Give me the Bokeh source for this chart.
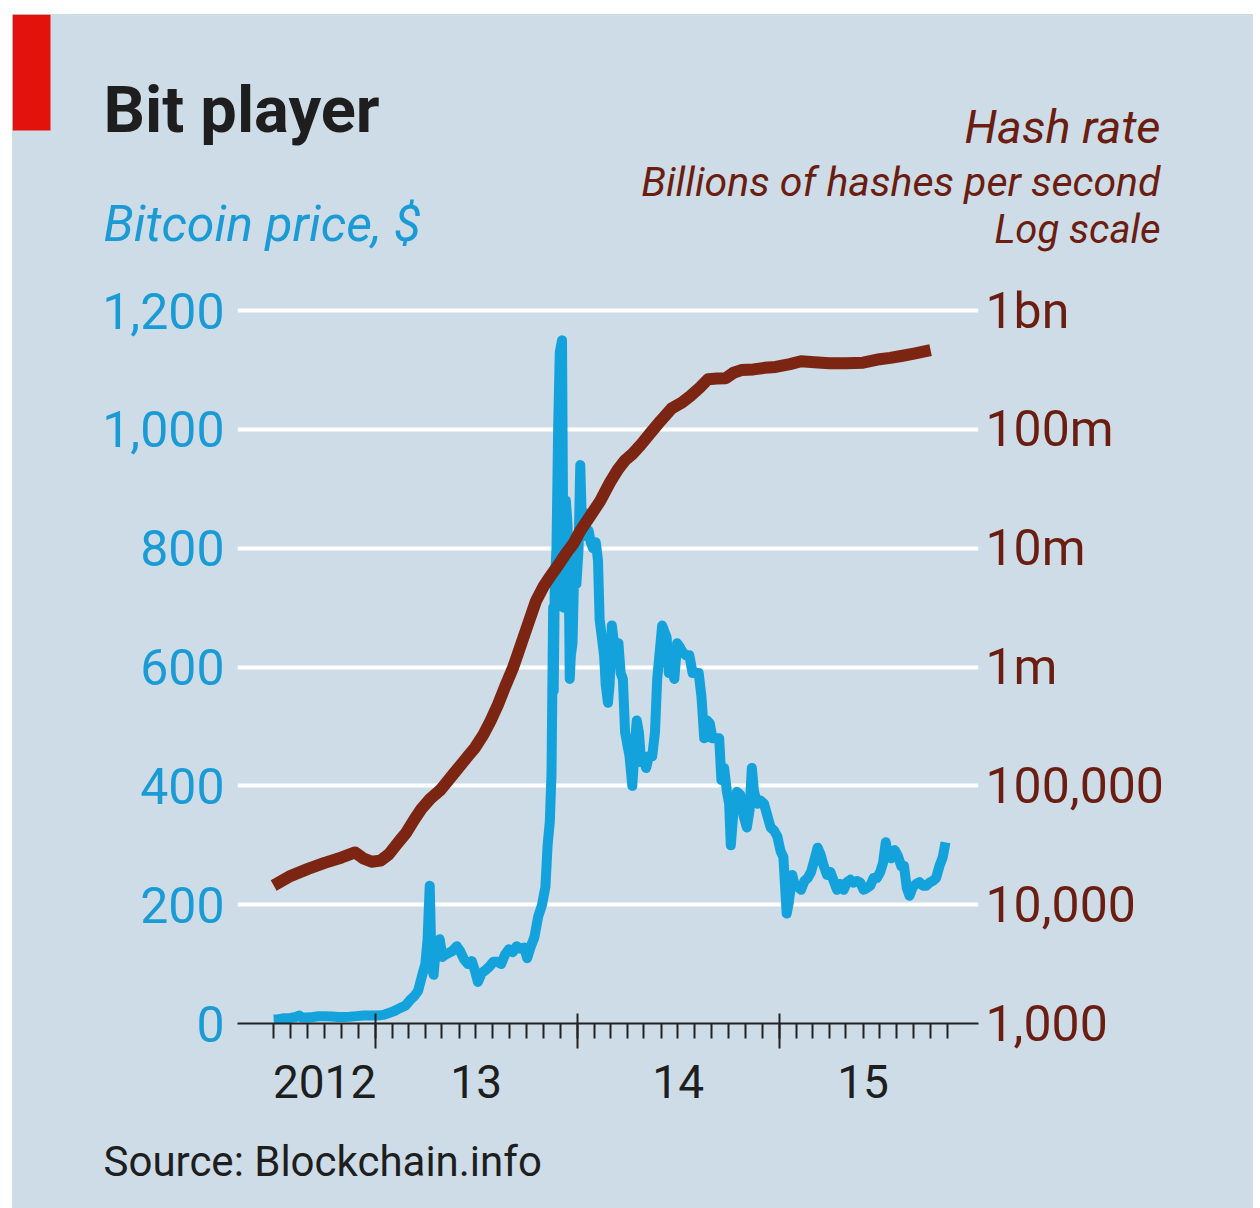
import pandas as pd
from bokeh.plotting import figure
from bokeh.layouts import row, column
from bokeh.models import (Range1d, LogScale, LogAxis, DatetimeAxis, FixedTicker,
                          ColumnDataSource, CustomJSTickFormatter, Spacer)
from bokeh.core.properties import value
from bokeh.embed import file_html
from bokeh.resources import INLINE

# ---------------- data ----------------
price_dates = [
    "2012-07-01", "2012-07-10", "2012-07-20", "2012-08-01", "2012-08-10", "2012-08-16",
    "2012-08-20", "2012-08-31", "2012-09-10", "2012-09-20", "2012-10-01", "2012-10-15",
    "2012-10-25", "2012-11-05", "2012-11-15", "2012-11-28", "2012-12-10", "2012-12-24",
    "2013-01-05", "2013-01-15", "2013-01-25", "2013-02-04", "2013-02-14", "2013-02-24",
    "2013-03-05", "2013-03-12", "2013-03-19", "2013-03-26", "2013-04-01", "2013-04-05",
    "2013-04-09", "2013-04-11", "2013-04-13", "2013-04-16", "2013-04-19", "2013-04-23",
    "2013-04-27", "2013-05-02", "2013-05-06", "2013-05-12", "2013-05-20", "2013-05-28",
    "2013-06-03", "2013-06-10", "2013-06-17", "2013-06-24", "2013-06-30", "2013-07-05",
    "2013-07-12", "2013-07-19", "2013-07-26", "2013-08-02", "2013-08-09", "2013-08-16",
    "2013-08-23", "2013-08-30", "2013-09-06", "2013-09-13", "2013-09-20", "2013-09-27",
    "2013-10-02", "2013-10-08", "2013-10-15", "2013-10-22", "2013-10-29", "2013-11-04",
    "2013-11-08", "2013-11-12", "2013-11-15", "2013-11-18", "2013-11-19", "2013-11-21",
    "2013-11-24", "2013-11-27", "2013-11-30", "2013-12-04", "2013-12-07", "2013-12-09",
    "2013-12-11", "2013-12-14", "2013-12-17", "2013-12-18", "2013-12-20", "2013-12-23",
    "2013-12-26", "2013-12-30", "2014-01-03", "2014-01-06", "2014-01-09", "2014-01-13",
    "2014-01-17", "2014-01-21", "2014-01-25", "2014-01-29", "2014-02-03", "2014-02-07",
    "2014-02-10", "2014-02-14", "2014-02-18", "2014-02-21", "2014-02-25", "2014-02-28",
    "2014-03-04", "2014-03-08", "2014-03-12", "2014-03-16", "2014-03-20", "2014-03-24",
    "2014-03-28", "2014-04-01", "2014-04-05", "2014-04-10", "2014-04-14", "2014-04-18",
    "2014-04-22", "2014-04-26", "2014-04-30", "2014-05-05", "2014-05-10", "2014-05-16",
    "2014-05-21", "2014-05-25", "2014-05-30", "2014-06-03", "2014-06-07", "2014-06-11",
    "2014-06-15", "2014-06-19", "2014-06-25", "2014-06-30", "2014-07-04", "2014-07-10",
    "2014-07-16", "2014-07-22", "2014-07-28", "2014-08-02", "2014-08-08", "2014-08-13",
    "2014-08-18", "2014-08-23", "2014-08-28", "2014-09-02", "2014-09-08", "2014-09-14",
    "2014-09-18", "2014-09-23", "2014-09-28", "2014-10-02", "2014-10-05", "2014-10-10",
    "2014-10-16", "2014-10-22", "2014-10-28", "2014-11-03", "2014-11-08", "2014-11-12",
    "2014-11-16", "2014-11-22", "2014-11-28", "2014-12-04", "2014-12-10", "2014-12-16",
    "2014-12-22", "2014-12-28", "2015-01-03", "2015-01-08", "2015-01-14", "2015-01-18",
    "2015-01-24", "2015-01-28", "2015-02-03", "2015-02-09", "2015-02-15", "2015-02-21",
    "2015-02-27", "2015-03-05", "2015-03-11", "2015-03-16", "2015-03-22", "2015-03-28",
    "2015-04-03", "2015-04-09", "2015-04-15", "2015-04-21", "2015-04-27", "2015-05-03",
    "2015-05-09", "2015-05-15", "2015-05-21", "2015-05-27", "2015-06-02", "2015-06-08",
    "2015-06-14", "2015-06-20", "2015-06-26", "2015-07-02", "2015-07-07", "2015-07-12",
    "2015-07-17", "2015-07-22", "2015-07-28", "2015-08-03", "2015-08-09", "2015-08-14",
    "2015-08-19", "2015-08-24", "2015-08-30", "2015-09-05", "2015-09-11", "2015-09-17",
    "2015-09-23", "2015-09-29", "2015-10-05", "2015-10-11", "2015-10-17", "2015-10-23",
    "2015-10-28",
]
price_values = [
    6.7, 7.2, 8.8, 9.4, 11.0, 13.5,
    10.5, 10.2, 11.0, 12.3, 12.4, 11.8,
    10.9, 10.8, 11.2, 12.4, 13.3, 13.4,
    13.5, 14.5, 17.5, 21, 26, 30,
    40, 46, 55, 80, 100, 140,
    232, 150, 95, 82, 115, 130,
    142, 112, 115, 118, 122, 130,
    122, 108, 100, 105, 88, 70,
    85, 90, 96, 104, 104, 100,
    116, 125, 120, 130, 126, 128,
    110, 128, 145, 180, 200, 230,
    300, 340, 420, 700, 560, 740,
    800, 1000, 1130, 1150, 700, 860,
    880, 840, 680, 580, 620, 640,
    760, 740, 800, 940, 840, 860,
    820, 830, 810, 800, 810, 780,
    680, 650, 620, 570, 540, 570,
    670, 640, 630, 640, 590, 580,
    490, 470, 450, 400, 460, 510,
    490, 440, 450, 430, 450, 450,
    490, 580, 630, 670, 660, 650,
    590, 600, 580, 640, 635, 625,
    620, 620, 590, 590, 590, 550,
    480, 510, 505, 480, 480, 480,
    410, 430, 390, 370, 300, 360,
    390, 385, 350, 330, 360, 430,
    390, 370, 375, 370, 350, 330,
    325, 315, 290, 280, 185, 205,
    250, 235, 230, 225, 240, 245,
    255, 275, 296, 285, 265, 250,
    255, 240, 225, 235, 225, 238,
    242, 237, 240, 237, 225, 228,
    232, 245, 245, 255, 270, 305,
    280, 278, 292, 282, 265, 265,
    228, 215, 230, 235, 238, 232,
    232, 237, 240, 245, 265, 280,
    305,
]

hash_dates = [
    "2012-07-01", "2012-08-01", "2012-09-01", "2012-10-01", "2012-11-01", "2012-11-25",
    "2012-12-10", "2012-12-25", "2013-01-10", "2013-01-25", "2013-02-10", "2013-02-25",
    "2013-03-12", "2013-03-25", "2013-04-10", "2013-04-28", "2013-05-15", "2013-06-03",
    "2013-06-18", "2013-06-30", "2013-07-15", "2013-07-28", "2013-08-10", "2013-08-24",
    "2013-09-07", "2013-09-20", "2013-10-05", "2013-10-18", "2013-11-01", "2013-11-14",
    "2013-11-28", "2013-12-11", "2013-12-25", "2014-01-06", "2014-01-25", "2014-02-11",
    "2014-03-01", "2014-03-15", "2014-03-28", "2014-04-10", "2014-04-24", "2014-05-10",
    "2014-05-31", "2014-06-20", "2014-07-10", "2014-07-24", "2014-08-10", "2014-08-25",
    "2014-09-10", "2014-09-26", "2014-10-10", "2014-10-24", "2014-11-15", "2014-12-05",
    "2014-12-25", "2015-01-20", "2015-02-09", "2015-03-05", "2015-04-01", "2015-05-01",
    "2015-06-01", "2015-07-01", "2015-07-20", "2015-08-09", "2015-09-01", "2015-10-01",
]
hash_values = [
    14500, 17500, 20000, 22500, 25000, 27500,
    24500, 23000, 23500, 26500, 33000, 40000,
    52000, 64000, 78000, 92000, 115000, 148000,
    180000, 210000, 270000, 354000, 480000, 700000,
    1.0e6, 1.5e6, 2.4e6, 3.6e6, 4.8e6, 5.9e6,
    7.3e6, 9.0e6, 11.0e6, 14.0e6, 19.0e6, 25.0e6,
    36.0e6, 46.0e6, 55.0e6, 62.0e6, 73.0e6, 90.0e6,
    118e6, 150e6, 170e6, 191e6, 225e6, 265e6,
    268e6, 270e6, 300e6, 316e6, 320e6, 330e6,
    336e6, 355e6, 375e6, 368e6, 360e6, 360e6,
    365e6, 390e6, 400e6, 415e6, 435e6, 465e6,
]

price_ticks = [0, 200, 400, 600, 800, 1000, 1200]
price_tick_labels = ["0", "200", "400", "600", "800", "1,000", "1,200"]
hash_ticks = [1e3, 1e4, 1e5, 1e6, 1e7, 1e8, 1e9]
hash_tick_labels = ["1,000", "10,000", "100,000", "1m", "10m", "100m", "1bn"]
year_label_dates = ["2012-10-01", "2013-07-02", "2014-07-02", "2015-06-01"]
year_labels = ["2012", "13", "14", "15"]
year_tick_dates = ["2013-01-01", "2014-01-01", "2015-01-01"]
month_tick_dates = pd.date_range("2012-07-01", "2015-11-01", freq="MS")

title_text = "Bit player"
left_unit_text = "Bitcoin price, $"
right_unit_texts = ["Hash rate", "Billions of hashes per second", "Log scale"]
source_text = "Source: Blockchain.info"

# ---------------- style ----------------
BG = "#cddce6"
BLUE = "#14a2dc"
BLUE_TXT = "#1a9bd6"
BROWN = "#7c2512"
BROWN_TXT = "#6a1d10"
RED = "#e3120b"
INK = "#1e1e1e"
FONT = "Roboto"
DAY = 86400000.0
W = 1241


def ms(d):
    return pd.Timestamp(d).value / 1e6


def no_align(f):
    try:
        f.frame_align = False
    except Exception:
        pass


def panel(height):
    f = figure(width=W, height=height, x_range=Range1d(0, W), y_range=Range1d(height, 0),
               x_axis_location=None, y_axis_location=None, output_backend="svg",
               toolbar_location=None, min_border=0, background_fill_color=BG,
               border_fill_color=BG, outline_line_color=None)
    f.grid.visible = False
    no_align(f)
    return f


# ---------------- header ----------------
HH = 256
head = panel(HH)
head.quad(left=[0], right=[38], top=[0], bottom=[116], fill_color=RED, line_color=None)
head.text(x=[91], y=[95], text=[title_text], text_font=value(FONT), text_font_style="bold",
          text_font_size="65px", text_color=INK, text_baseline="alphabetic")
head.text(x=[91], y=[209], text=[left_unit_text], text_font=value(FONT),
          text_font_style="italic", text_font_size="50px", text_color=BLUE_TXT,
          text_baseline="alphabetic")
head.text(x=[1148, 1148, 1148], y=[112, 167, 215], text=right_unit_texts,
          text_font=value(FONT), text_font_style="italic",
          text_font_size=["47px", "41px", "40px"], text_color=BROWN_TXT,
          text_baseline="alphabetic", text_align="right")

# ---------------- main chart ----------------
x0 = ms("2013-01-01") - 249.36 * DAY
x1 = x0 + 1338.94 * DAY
y_top = 1212.0
hash_top = 10 ** (3 + 6 * y_top / 1200.0)

p = figure(width=W, height=860, x_axis_type="datetime",
           x_range=Range1d(x0, x1), y_range=Range1d(0, y_top),
           output_backend="svg", toolbar_location=None,
           min_border_left=225, min_border_right=275,
           min_border_top=33, min_border_bottom=107,
           background_fill_color=BG, border_fill_color=BG,
           outline_line_color=None)
no_align(p)

p.extra_y_ranges = {"hash": Range1d(1e3, hash_top)}
p.extra_y_scales = {"hash": LogScale()}

p.xgrid.visible = False
p.ygrid.ticker = FixedTicker(ticks=price_ticks[1:])
p.ygrid.grid_line_color = "white"
p.ygrid.grid_line_width = 4

ya = p.yaxis[0]
ya.ticker = FixedTicker(ticks=price_ticks)
ya.major_label_overrides = {t: l for t, l in zip(price_ticks, price_tick_labels)}
ya.axis_line_color = None
ya.major_tick_line_color = None
ya.minor_tick_line_color = None
ya.major_tick_out = 0
ya.major_tick_in = 0
ya.major_label_standoff = 13
ya.major_label_text_font = FONT
ya.major_label_text_font_size = "50px"
ya.major_label_text_color = BLUE_TXT

ra = LogAxis(y_range_name="hash", ticker=FixedTicker(ticks=hash_ticks))
ra.major_label_overrides = {t: l for t, l in zip(hash_ticks, hash_tick_labels)}
ra.axis_line_color = None
ra.major_tick_line_color = None
ra.minor_tick_line_color = None
ra.major_tick_out = 0
ra.major_tick_in = 0
ra.major_label_standoff = 7
ra.major_label_text_font = FONT
ra.major_label_text_font_size = "50px"
ra.major_label_text_color = BROWN_TXT
p.add_layout(ra, "right")

xa = p.xaxis[0]
xa.ticker = FixedTicker(ticks=[ms(d) for d in year_tick_dates],
                        minor_ticks=[ms(d) for d in month_tick_dates])
xa.formatter = CustomJSTickFormatter(code="return ''")
xa.major_label_text_font_size = "1px"
xa.major_label_standoff = 0
xa.axis_line_color = "#222222"
xa.axis_line_width = 2
xa.major_tick_line_color = "#222222"
xa.major_tick_line_width = 2
xa.major_tick_in = 10
xa.major_tick_out = 25
xa.minor_tick_line_color = "#222222"
xa.minor_tick_line_width = 2
xa.minor_tick_in = 0
xa.minor_tick_out = 15

ylab = DatetimeAxis(ticker=FixedTicker(ticks=[ms(d) for d in year_label_dates]))
ylab.major_label_overrides = {ms(d): t for d, t in zip(year_label_dates, year_labels)}
ylab.axis_line_color = None
ylab.major_tick_line_color = None
ylab.minor_tick_line_color = None
ylab.major_tick_in = 0
ylab.major_tick_out = 0
ylab.minor_tick_in = 0
ylab.minor_tick_out = 0
ylab.major_label_standoff = 16
ylab.major_label_text_font = FONT
ylab.major_label_text_font_size = "46px"
ylab.major_label_text_color = INK
p.add_layout(ylab, "below")

src_p = ColumnDataSource(dict(date=pd.to_datetime(price_dates), price=price_values))
src_h = ColumnDataSource(dict(date=pd.to_datetime(hash_dates), hr=hash_values))
p.line(x="date", y="price", source=src_p, line_color=BLUE, line_width=10,
       line_join="round")
p.line(x="date", y="hr", source=src_h, y_range_name="hash", line_color=BROWN,
       line_width=12, line_join="round")

# ---------------- footer ----------------
FH = 78
foot = panel(FH)
foot.text(x=[91], y=[31], text=[source_text], text_font=value(FONT),
          text_font_size="42px", text_color=INK, text_baseline="alphabetic")

top_gap = Spacer(width=W, height=14, styles={"background-color": "white"})
body = column(top_gap, head, p, foot, styles={"background-color": BG})
layout = row(Spacer(width=12, height=1208), body)

open("out.html", "w").write(file_html(layout, INLINE))
